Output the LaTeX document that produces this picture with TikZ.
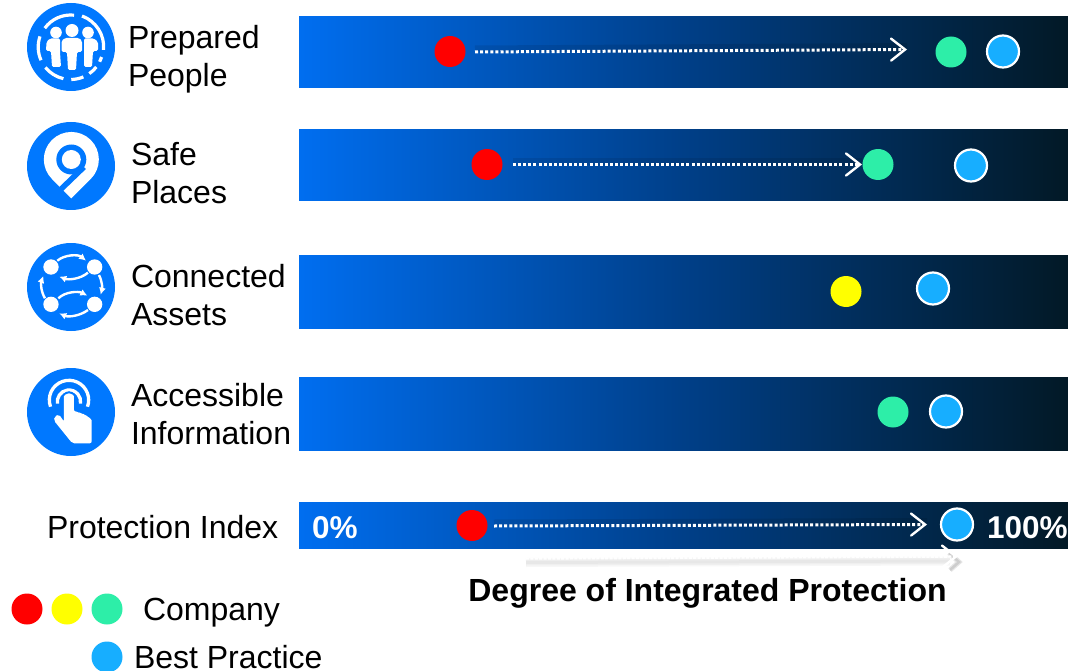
\documentclass[tikz,border=0pt]{standalone}
\usepackage{fontspec}
\setmainfont{Liberation Sans}
\usetikzlibrary{arrows.meta}
\definecolor{iconblue}{HTML}{0078FF}
\definecolor{barA}{HTML}{006EF0}
\definecolor{barB}{HTML}{003F88}
\definecolor{barC}{HTML}{021926}
\definecolor{dotred}{HTML}{FF0000}
\definecolor{dotyellow}{HTML}{FFFF00}
\definecolor{dotgreen}{HTML}{2DEEA8}
\definecolor{dotblue}{HTML}{17AEFF}
\pgfdeclarehorizontalshading{barshade}{100bp}{color(0bp)=(barA);color(25bp)=(barA);color(50bp)=(barB);color(75bp)=(barC);color(100bp)=(barC)}
\tikzset{
  x=1pt,y=-1pt,
  lbl/.style={inner sep=0pt,outer sep=0pt,font=\fontsize{32}{38}\selectfont,text=black},
  lblw/.style={inner sep=0pt,outer sep=0pt,font=\bfseries\fontsize{31.5}{36}\selectfont,text=white},
  icon/.style={circle,fill=iconblue,draw=none,minimum size=88pt,inner sep=0pt},
  dot/.style={circle,minimum size=31pt,inner sep=0pt,draw=none,fill=#1},
  best/.style={circle,minimum size=32pt,inner sep=0pt,draw=white,line width=2.2pt,fill=dotblue},
  barbox/.style={minimum width=769pt,inner sep=0pt,outer sep=0pt,draw=none,shading=barshade,anchor=north west},
  prog/.style={draw=white,line width=3pt,dash pattern=on 3pt off 2.1pt,
     -{Straight Barb[length=14pt,width=22pt,line width=2.4pt,line cap=round]}},
  progfaint/.style={draw=white,line width=2.4pt,dash pattern=on 3pt off 1.4pt,
     -{Straight Barb[length=14pt,width=22pt,line width=2.4pt,line cap=round]}},
  halo/.style={draw=black,line width=7pt,opacity=.09},
  ring/.style={draw=white,line width=3.2pt,line cap=butt},
  loopa/.style={draw=white,line width=2.4pt,-{Latex[length=7pt,width=7pt]}},
  faint/.style={draw=black,opacity=.03}
}
\begin{document}
\begin{tikzpicture}
\useasboundingbox[fill=white] (0,0) rectangle (1068,671);

% bars
\node[barbox,minimum height=71.6pt] (bar1) at (299,16.4) {};
\node[barbox,minimum height=71.6pt] (bar2) at (299,129.4) {};
\node[barbox,minimum height=72.6pt] (bar3) at (299,255.4) {};
\node[barbox,minimum height=72.6pt] (bar4) at (299,377.4) {};
\node[barbox,minimum height=46.4pt] (bar5) at (299,502.4) {};

% icons
\node[icon] (ic1) at (71,47) {};
\node[icon] (ic2) at (71,166) {};
\node[icon] (ic3) at (71,287) {};
\node[icon] (ic4) at (71,412) {};

% people icon
\begin{scope}[shift={(70.7,47)}]
  \draw[ring] (-144:32) arc[start angle=-144,end angle=-84,radius=32];
  \draw[ring] (-70:33) arc[start angle=-70,end angle=5,radius=33];
  \draw[ring] (18:32.5) arc[start angle=18,end angle=27,radius=32.5];
  \draw[ring] (38:32.5) arc[start angle=38,end angle=55,radius=32.5];
  \draw[ring] (67:32.5) arc[start angle=67,end angle=89,radius=32.5];
  \draw[ring] (103:32.5) arc[start angle=103,end angle=141,radius=32.5];
  \draw[ring] (156:32.5) arc[start angle=156,end angle=199,radius=32.5];
\end{scope}
\fill[white] (56,32.5) circle[radius=5.8] (88,32.5) circle[radius=5.8] (72,30.5) circle[radius=6.5];
\fill[white,rounded corners=1.5pt] (50,38.5) -- (60,38.5) -- (60,52) -- (61,67) -- (52,67) -- (51,51) -- (46,51) -- (46.5,42) -- cycle;
\fill[white,rounded corners=1.5pt] (84,38.5) -- (94,38.5) -- (98,42) -- (98,51) -- (93,51) -- (92,67) -- (84,67) -- (84,52) -- cycle;
\fill[white,rounded corners=1.5pt] (65,38) -- (79,38) -- (82,41) -- (82,52) -- (77,52) -- (76,70) -- (68,70) -- (67,52) -- (61.5,52) -- (61.5,41) -- cycle;

% pin icon
\fill[white] (71.3,198.4) -- (51.9,178.9) arc[start angle=135,end angle=405,radius=27.5] -- cycle;
\fill[iconblue] (71.3,159.5) circle[radius=15];
\fill[white] (71.3,159.5) circle[radius=9.5];
\draw[iconblue,line width=5.5pt] (84,167) -- (57,193);

% connected icon
\begin{scope}[shift={(0,230)},scale=.3333]
  \fill[white] (153,111) circle[radius=23] (284,111) circle[radius=23] (153,223) circle[radius=23] (284,223) circle[radius=23];
  \draw[loopa] (172,92) .. controls (195,73) and (235,73) .. (258,92);
  \draw[loopa] (264,128) .. controls (240,148) and (205,150) .. (178,140);
  \draw[loopa] (297,135) .. controls (307,155) and (307,175) .. (302,194);
  \draw[loopa] (135,205) .. controls (123,185) and (122,160) .. (130,138);
  \draw[loopa] (175,205) .. controls (195,185) and (235,183) .. (262,197);
  \draw[loopa] (264,240) .. controls (240,258) and (205,262) .. (178,250);
\end{scope}

% touch icon
\begin{scope}[shift={(0,230)},scale=.3333]
  \draw[white,line width=3.3pt] (207,510) ++(160:59) arc[start angle=160,end angle=380,radius=59];
  \draw[white,line width=3.3pt] (207,515) ++(170:35) arc[start angle=170,end angle=370,radius=35];
  \fill[iconblue] (207,505) circle[radius=21];
  \fill[white,rounded corners=2pt] (192,505) arc[start angle=180,end angle=360,radius=15] -- (222,545) -- (236,545) -- (242,552) -- (256,552) -- (262,562) -- (275,565) -- (275,640) -- (217,640) -- (162,572) -- (163,560) -- (177,553) -- (192,575) -- cycle;
\end{scope}

% labels
\node[lbl,align=left,anchor=west] (t1) at (128,59) {Prepared\\People};
\node[lbl,align=left,anchor=west] (t2) at (131,173) {Safe\\Places};
\node[lbl,align=left,anchor=west] (t3) at (131,295) {Connected\\Assets};
\node[lbl,align=left,anchor=west] (t4) at (131,414) {Accessible\\Information};
\node[lbl,anchor=base west] (t5) at (47,538) {Protection Index};
\node[lblw,anchor=base west] (p0) at (312,538) {0\%};
\node[lblw,anchor=base west] (p100) at (987,538) {100\%};
\node[lbl,anchor=base,font=\bfseries\fontsize{32}{38}\selectfont] (axis) at (707.5,601) {Degree of Integrated Protection};
\node[lbl,anchor=base west] (lc) at (143,620) {Company};
\node[lbl,anchor=base west] (lb) at (134,668) {Best Practice};

% dots
\node[dot=dotred] (r1) at (450,51.5) {};
\node[dot=dotgreen] (g1) at (951,52) {};
\node[best] (b1) at (1003,51.5) {};
\node[dot=dotred] (r2) at (487,164.5) {};
\node[dot=dotgreen] (g2) at (878,164.5) {};
\node[best] (b2) at (971,165.5) {};
\node[dot=dotyellow] (y3) at (846,291.5) {};
\node[best] (b3) at (933,288.5) {};
\node[dot=dotgreen] (g4) at (893,412) {};
\node[best] (b4) at (946,411.5) {};
\node[dot=dotred] (r5) at (472,525.5) {};
\node[best] (b5) at (957,524.5) {};
\node[dot=dotred] (l1) at (27,609) {};
\node[dot=dotyellow] (l2) at (67,609) {};
\node[dot=dotgreen] (l3) at (107,609) {};
\node[dot=dotblue] (l4) at (107,657) {};

% progress arrows
\coordinate (a1s) at (475,52);
\coordinate (a1e) at (907,49.5);
\coordinate (a2s) at (513,164.5);
\coordinate (a2e) at (862,164.5);
\coordinate (a5s) at (494,526);
\coordinate (a5e) at (927,524.5);
\coordinate (sh1) at (526,562.5);
\coordinate (sh2) at (950,561);
\coordinate (sh3) at (526,558.5);
\coordinate (sh4) at (958,556.5);
\draw[halo] ([yshift=3pt]a1s) -- ([yshift=3pt]a1e);
\draw[halo] ([yshift=3pt]a2s) -- ([yshift=3pt]a2e);
\draw[halo] ([yshift=3pt]a5s) -- ([yshift=3pt]a5e);
\draw[prog] (a1s) -- (a1e);
\draw[prog] (a2s) -- (a2e);
\draw[prog] (a5s) -- (a5e);
\draw[faint,line width=9pt] (sh1) -- (sh2);
\draw[faint,line width=6pt] (sh1) -- (sh2);
\draw[faint,line width=3pt] (sh1) -- (sh2);
\draw[black,opacity=.1,line width=5pt] (950,570) -- (959,562) -- (949,553);
\draw[black,opacity=.1,line width=2.5pt] (950,570) -- (959,562) -- (949,553);
\draw[progfaint] (sh3) -- (sh4);
\end{tikzpicture}
\end{document}
